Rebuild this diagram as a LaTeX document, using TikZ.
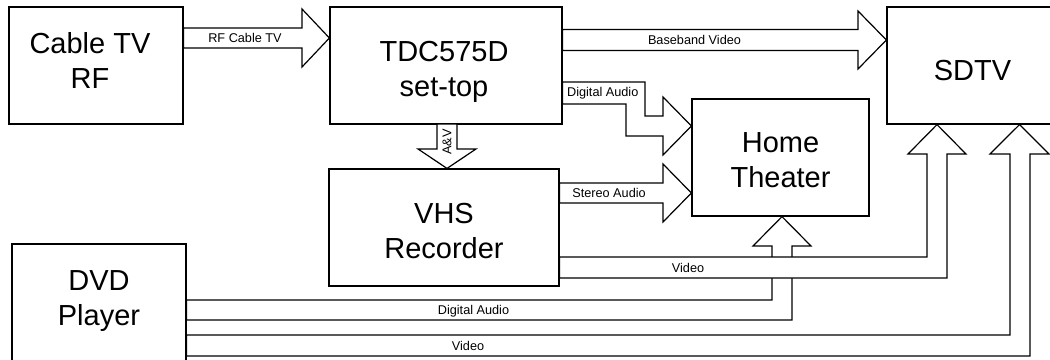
\documentclass[tikz,border=0pt]{standalone}
\usepackage{fontspec}
\setmainfont{Liberation Sans}
\begin{document}
\begin{tikzpicture}[x=1pt,y=-1pt,
  line width=1.2pt,
  device/.style={draw=black,fill=white,inner sep=0pt},
  devtext/.style={inner sep=0pt,align=center,font=\fontsize{29}{35}\selectfont},
  blockarrow/.style={draw=black,fill=white,line join=miter},
  lbl/.style={inner sep=0pt,font=\fontsize{12.7}{15}\selectfont}]
\useasboundingbox (0,0) rectangle (1050,359);
\clip (0,0) rectangle (1050,359);
\fill[white] (0,0) rectangle (1050,359);
% devices
\node[device,minimum width=174pt,minimum height=117pt] (cable) at (96,65.5) {};
\node[device,minimum width=232pt,minimum height=117pt] (tdc) at (446,65.5) {};
\node[device,minimum width=171pt,minimum height=117pt] (sdtv) at (972.5,65.5) {};
\node[device,minimum width=177pt,minimum height=117pt] (home) at (780.5,157.5) {};
\node[device,minimum width=230pt,minimum height=117pt] (vhs) at (444,227.5) {};
\node[device,minimum width=174pt,minimum height=117pt] (dvd) at (99,302.5) {};
\node[devtext] (cable-t) at ([shift={(-6,-5.5)}]cable.center) {Cable TV\\RF};
\node[devtext] (tdc-t) at ([shift={(-2,6.5)}]tdc.center) {TDC575D\\set-top};
\node[devtext] (sdtv-t) at ([shift={(0,5)}]sdtv.center) {SDTV};
\node[devtext] (home-t) at ([shift={(0,2.5)}]home.center) {Home\\Theater};
\node[devtext] (vhs-t) at ([shift={(0,3.5)}]vhs.center) {VHS\\Recorder};
\node[devtext] (dvd-t) at ([shift={(0,-1.5)}]dvd.center) {DVD\\Player};
% RF Cable TV
\draw[blockarrow] (cable.east |- 0,28) -- (302,28) -- (302,9) -- (tdc.west |- 0,38) -- (302,67) -- (302,48) -- (cable.east |- 0,48) -- cycle;
\node[lbl] (lrf) at (245,38) {RF Cable TV};
% Baseband Video
\draw[blockarrow] (tdc.east |- 0,29.5) -- (858,29.5) -- (858,11) -- (sdtv.west |- 0,40) -- (858,69) -- (858,50.5) -- (tdc.east |- 0,50.5) -- cycle;
\node[lbl] (lbb) at (694.5,40) {Baseband Video};
% Digital Audio (set-top to home theater)
\draw[blockarrow] (tdc.east |- 0,82) -- (645,82) -- (645,116) -- (663,116) -- (663,97) -- (home.west |- 0,126) -- (663,155) -- (663,136) -- (626,136) -- (626,104) -- (tdc.east |- 0,104) -- cycle;
\node[lbl,anchor=west] (lda1) at (566.5,93) {Digital Audio};
% A&V
\draw[blockarrow] (437,124) -- (437,149) -- (418,149) -- (vhs.north -| 447,0) -- (476,149) -- (457,149) -- (457,124) -- cycle;
\node[lbl,rotate=90] (lav) at (447,142) {A\&V};
% Stereo Audio
\draw[blockarrow] (vhs.east |- 0,183) -- (663,183) -- (663,164) -- (home.west |- 0,193) -- (663,222) -- (663,203) -- (vhs.east |- 0,203) -- cycle;
\node[lbl] (lsa) at (609,193) {Stereo Audio};
% DVD Digital Audio to home theater
\draw[blockarrow] (dvd.east |- 0,300) -- (772,300) -- (772,246) -- (753,246) -- (home.south -| 782,0) -- (811,246) -- (792,246) -- (792,320) -- (dvd.east |- 0,320) -- cycle;
\node[lbl] (lda2) at (473.5,311) {Digital Audio};
% VHS Video to SDTV
\draw[blockarrow] (vhs.east |- 0,257) -- (927,257) -- (927,154) -- (908,154) -- (sdtv.south -| 937,0) -- (966,154) -- (947,154) -- (947,278) -- (vhs.east |- 0,278) -- cycle;
\node[lbl] (lv1) at (688,267.5) {Video};
% DVD Video to SDTV
\draw[blockarrow] (dvd.east |- 0,335) -- (1010,335) -- (1010,154) -- (990,154) -- (sdtv.south -| 1019.5,0) -- (1049,154) -- (1030,154) -- (1030,356) -- (dvd.east |- 0,356) -- cycle;
\node[lbl] (lv2) at (468,346) {Video};
\end{tikzpicture}
\end{document}
